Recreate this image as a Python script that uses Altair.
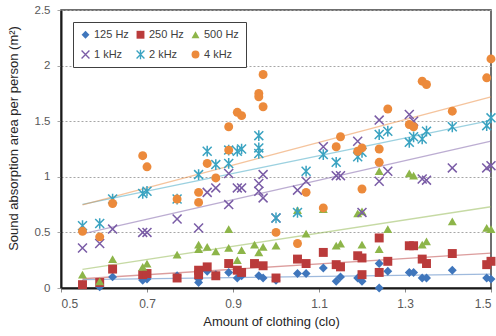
import altair as alt
import pandas as pd

series_names = ["125 Hz", "250 Hz", "500 Hz", "1 kHz", "2 kHz", "4 kHz"]
colors = ["#3F76BC", "#BA3B3B", "#8DB549", "#7A5CA6", "#3AA3C1", "#EC8A3B"]

X_PATH = "M-0.88,-1.12L1.12,0.88L0.88,1.12L-1.12,-0.88ZM-1.12,0.88L0.88,-1.12L1.12,-0.88L-0.88,1.12Z"
STAR_PATH = X_PATH + "M-0.17,-1.2L0.17,-1.2L0.17,1.2L-0.17,1.2Z"
shapes = ["diamond", "square", "triangle-up", X_PATH, STAR_PATH, "circle"]

x_125 = [0.55, 0.59, 0.62, 0.69, 0.70, 0.77, 0.82, 0.82, 0.84, 0.86, 0.89, 0.91, 0.92, 0.96, 0.97, 1.00,
         1.05, 1.07, 1.11, 1.14, 1.15, 1.19, 1.20, 1.24, 1.24, 1.26, 1.31, 1.32, 1.34, 1.35, 1.41, 1.49, 1.50]
y_125 = [0.03, 0.01, 0.10, 0.07, 0.08, 0.11, 0.05, 0.08, 0.15, 0.12, 0.14, 0.09, 0.11, 0.11, 0.09, 0.07,
         0.13, 0.13, 0.18, 0.06, 0.10, 0.09, 0.06, 0.22, 0.00, 0.15, 0.14, 0.14, 0.09, 0.09, 0.16, 0.09, 0.08]

x_250 = [0.55, 0.59, 0.62, 0.69, 0.70, 0.77, 0.82, 0.82, 0.84, 0.86, 0.89, 0.91, 0.92, 0.95, 0.97, 1.00,
         1.05, 1.07, 1.11, 1.14, 1.15, 1.19, 1.20, 1.20, 1.24, 1.24, 1.26, 1.31, 1.32, 1.34, 1.35, 1.41, 1.49, 1.50]
y_250 = [0.03, 0.05, 0.17, 0.12, 0.13, 0.09, 0.16, 0.12, 0.19, 0.11, 0.22, 0.16, 0.14, 0.22, 0.20, 0.09,
         0.26, 0.22, 0.32, 0.21, 0.19, 0.29, 0.27, 0.12, 0.45, 0.14, 0.24, 0.38, 0.38, 0.26, 0.22, 0.31, 0.21, 0.24]

x_500 = [0.55, 0.59, 0.62, 0.69, 0.70, 0.77, 0.82, 0.82, 0.84, 0.86, 0.89, 0.89, 0.91, 0.92, 0.95, 0.96, 0.97, 1.00,
         1.05, 1.07, 1.11, 1.14, 1.15, 1.19, 1.20, 1.20, 1.24, 1.24, 1.26, 1.31, 1.32, 1.34, 1.35, 1.41, 1.49, 1.50]
y_500 = [0.12, 0.06, 0.26, 0.19, 0.22, 0.30, 0.39, 0.35, 0.37, 0.33, 0.53, 0.36, 0.25, 0.34, 0.39, 0.32, 0.37, 0.38,
         0.70, 0.49, 0.71, 0.38, 0.40, 0.67, 0.69, 0.39, 1.05, 0.35, 0.53, 1.03, 1.01, 0.39, 0.42, 0.60, 0.54, 0.53]

x_1k = [0.55, 0.59, 0.62, 0.69, 0.70, 0.77, 0.82, 0.84, 0.86, 0.89, 0.89, 0.91, 0.92, 0.96, 0.96, 0.97, 0.97, 1.00,
        1.05, 1.07, 1.11, 1.14, 1.15, 1.19, 1.20, 1.24, 1.24, 1.26, 1.31, 1.32, 1.34, 1.35, 1.41, 1.49, 1.50]
y_1k = [0.36, 0.40, 0.53, 0.50, 0.50, 0.62, 0.54, 0.86, 0.90, 1.03, 0.75, 0.90, 0.90, 0.94, 0.87, 0.81, 1.02, 0.63,
        0.88, 0.96, 1.27, 1.01, 1.01, 1.32, 0.68, 1.51, 0.96, 1.05, 1.56, 1.50, 0.98, 0.97, 1.08, 1.08, 1.10]

x_2k = [0.55, 0.59, 0.62, 0.69, 0.70, 0.77, 0.82, 0.84, 0.86, 0.89, 0.89, 0.91, 0.92, 0.96, 0.96, 0.96, 1.00,
        1.05, 1.07, 1.11, 1.14, 1.19, 1.20, 1.24, 1.26, 1.31, 1.32, 1.34, 1.35, 1.41, 1.49, 1.50]
y_2k = [0.56, 0.58, 0.80, 0.85, 0.87, 0.80, 1.02, 1.23, 1.11, 1.12, 1.24, 1.23, 1.25, 1.37, 1.26, 1.21, 0.63,
        0.68, 1.05, 1.20, 1.13, 1.18, 1.22, 1.38, 1.41, 1.31, 1.36, 1.34, 1.41, 1.45, 1.46, 1.53]

x_4k = [0.55, 0.59, 0.62, 0.69, 0.70, 0.77, 0.82, 0.82, 0.84, 0.86, 0.89, 0.89, 0.91, 0.92, 0.96, 0.96, 0.97, 0.97, 1.00,
        1.05, 1.07, 1.11, 1.14, 1.15, 1.19, 1.20, 1.20, 1.24, 1.24, 1.26, 1.31, 1.32, 1.34, 1.35, 1.41, 1.49, 1.50]
y_4k = [0.51, 0.46, 0.76, 1.19, 1.09, 0.80, 0.86, 0.77, 1.12, 0.99, 1.45, 1.24, 1.58, 1.55, 1.75, 1.72, 1.92, 1.63, 0.50,
        0.40, 0.86, 0.72, 1.27, 1.36, 1.23, 1.26, 0.89, 1.25, 1.13, 1.61, 1.47, 1.45, 1.86, 1.83, 1.59, 1.89, 2.06]

x_ticks = [0.5, 0.7, 0.9, 1.1, 1.3, 1.5]
y_ticks = [0, 0.5, 1, 1.5, 2, 2.5]

xs_all = [x_125, x_250, x_500, x_1k, x_2k, x_4k]
ys_all = [y_125, y_250, y_500, y_1k, y_2k, y_4k]

rows = []
for order, (name, xs, ys) in enumerate(zip(series_names, xs_all, ys_all)):
    for xv, yv in zip(xs, ys):
        rows.append({"series": name, "order": order, "clo": xv, "area": yv})
df = pd.DataFrame(rows)

FONT = "Liberation Sans"

x_enc = alt.X(
    "clo:Q",
    scale=alt.Scale(domain=[0.5, 1.5], nice=False, zero=False),
    axis=alt.Axis(
        values=x_ticks, format="~g", grid=False, title="Amount of clothing (clo)",
        domainColor="#1a1a1a", domainWidth=2, tickSize=4, tickColor="#8c8c8c",
        labelFontSize=12, labelColor="#595959", labelPadding=6, labelFont=FONT,
        titleFontSize=13, titleColor="#262626", titleFontWeight="normal", titleFont=FONT,
        titlePadding=6, titleX=210,
    ),
)
y_enc = alt.Y(
    "area:Q",
    scale=alt.Scale(domain=[0, 2.5], nice=False),
    axis=alt.Axis(
        values=y_ticks, format="~g", grid=True, gridDash=[2, 2], gridColor="#a6a6a6",
        title="Sound absorption area per person (m²)",
        domainColor="#1a1a1a", domainWidth=2, tickSize=4, tickColor="#a6a6a6",
        labelFontSize=11.5, labelColor="#595959", labelPadding=7, labelFont=FONT,
        titleFontSize=13, titleColor="#262626", titleFontWeight="normal", titleFont=FONT,
        titleX=-41, titleY=128,
    ),
)

# trend lines: same colour mapping, listed in reverse so this scale stays separate from the legend one
lines = (
    alt.Chart(df)
    .transform_regression("clo", "area", groupby=["series"], extent=[0.55, 1.5])
    .mark_line(strokeWidth=1.3, opacity=0.5)
    .encode(
        x=x_enc,
        y=y_enc,
        stroke=alt.Stroke("series:N", scale=alt.Scale(domain=series_names[::-1], range=colors[::-1]),
                          legend=None),
    )
)

legend = alt.Legend(
    title=None, orient="top-left", offset=12, columns=3, direction="horizontal",
    strokeColor="#404040", fillColor="white", padding=7,
    rowPadding=8, columnPadding=6, labelFontSize=11, labelColor="#404040",
    labelFont=FONT, symbolSize=62, labelOffset=3,
)

points = (
    alt.Chart(df)
    .mark_point(filled=True, size=80, opacity=1)
    .encode(
        x=x_enc,
        y=y_enc,
        color=alt.Color("series:N", scale=alt.Scale(domain=series_names, range=colors), legend=legend),
        shape=alt.Shape("series:N", scale=alt.Scale(domain=series_names, range=shapes), legend=legend),
        order=alt.Order("order:Q"),
    )
)

chart = (
    alt.layer(lines, points)
    .properties(
        width=430, height=278,
        autosize=alt.AutoSizeParams(type="none"),
        padding={"left": 61, "top": 10, "right": 5, "bottom": 48},
        background="white",
    )
    .configure_view(stroke="#404040", strokeWidth=1.5)
)

chart.save("out.html", embed_options={"renderer": "svg", "actions": False})
